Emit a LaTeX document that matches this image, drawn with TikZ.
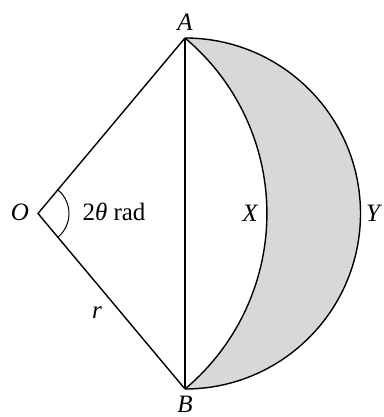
\documentclass[tikz,border=0pt]{standalone}
\usepackage{fontspec}
\setmainfont{Liberation Serif}
\usetikzlibrary{calc}
\begin{document}
\begin{tikzpicture}[x=1pt,y=1pt,
  edge/.style={line width=1.4pt,line join=miter},
  lbl/.style={font=\fontsize{25}{30}\selectfont\itshape,inner sep=0pt},
  txt/.style={font=\fontsize{25}{30}\selectfont,inner sep=0pt}]
\definecolor{lunegray}{RGB}{216,216,218}
\useasboundingbox (0,0) rectangle (383,417);
\pgfmathsetmacro{\hc}{175.5}
\pgfmathsetmacro{\dx}{147}
\pgfmathsetmacro{\ang}{atan(\hc/\dx)}
\pgfmathsetmacro{\rr}{veclen(\hc,\dx)}
\coordinate (O) at (38,203.5);
\coordinate (M) at (185,203.5);
\coordinate (A) at (185,379);
\coordinate (B) at (185,28);
% shaded lune
\fill[lunegray] (A) arc[start angle=90,end angle=-90,radius=\hc]
  arc[start angle=-\ang,end angle=\ang,radius=\rr] -- cycle;
% semicircle AYB
\draw[edge] (A) arc[start angle=90,end angle=-90,radius=\hc];
% arc AXB
\draw[edge] (B) arc[start angle=-\ang,end angle=\ang,radius=\rr];
% radii and chord
\draw[edge] (A) -- (O) -- (B);
\draw[edge] (A) -- (B);
% angle mark
\draw[line width=1pt] ($(O)+(-\ang:31)$) arc[start angle=-\ang,end angle=\ang,radius=31];
% labels
\node[lbl] (lA) at (185,395) {A};
\node[lbl] (lB) at (185,13) {B};
\node[lbl] (lO) at (20,205) {O};
\node[txt] (lang) at (114,205) {2\textit{θ} rad};
\node[lbl] (lX) at (250,204) {X};
\node[lbl] (lY) at (373,204) {Y};
\node[lbl] (lr) at (97,104) {r};
\end{tikzpicture}
\end{document}
